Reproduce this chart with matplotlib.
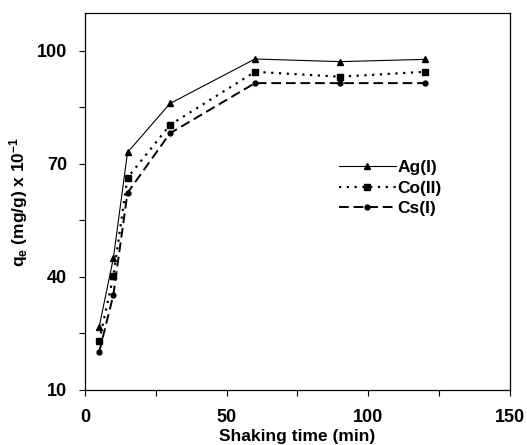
# kinetics plot: uptake vs shaking time

import matplotlib
matplotlib.use("Agg")
import matplotlib.pyplot as plt
from matplotlib.ticker import MultipleLocator

plt.rcParams["font.family"] = "Liberation Sans"
plt.rcParams["font.weight"] = "bold"
plt.rcParams["mathtext.fontset"] = "custom"
plt.rcParams["mathtext.rm"] = "Liberation Sans:bold"
plt.rcParams["mathtext.default"] = "regular"


# Data

time = [5, 10, 15, 30, 60, 90, 120]
ag = [26.8, 44.9, 73.0, 86.0, 97.8, 97.1, 97.7]
co = [23.0, 40.2, 66.3, 80.3, 94.4, 93.1, 94.4]
cs = [20.1, 35.2, 62.3, 78.1, 91.4, 91.4, 91.4]

labels = ["Ag(I)", "Co(II)", "Cs(I)"]


# Plot

fig = plt.figure(figsize=(5.27, 4.45), dpi=100)
ax = fig.add_axes([0.1613, 0.1236, 0.8064, 0.8472])

ax.plot(time, ag, "k-", lw=0.8, marker="^", ms=5, label=labels[0])
ax.plot(time, co, "k", ls=(0, (1, 2.5)), lw=1.6, marker="s", ms=4, label=labels[1])
ax.plot(time, cs, "k", ls=(0, (5, 2.5)), lw=1.4, marker="o", ms=3.5, label=labels[2])

ax.set_xlim(0, 150)
ax.set_ylim(10, 110)
ax.xaxis.set_major_locator(MultipleLocator(50))
ax.xaxis.set_minor_locator(MultipleLocator(25))
ax.set_yticks([10, 40, 70, 100])
ax.set_yticks([25, 55, 85], minor=True)
ax.tick_params(which="both", direction="out", length=4, width=0.8, labelsize=13)
ax.tick_params(axis="x", pad=10)
ax.tick_params(axis="y", pad=9)

for s in ax.spines.values():
    s.set_linewidth(0.9)

ax.set_xlabel("Shaking time (min)", fontsize=12.5, fontweight="bold", labelpad=2)
ax.set_ylabel(r"q$_{e}$ (mg/g) x 10$^{-1}$", fontsize=12.5, fontweight="bold", labelpad=5)

ax.legend(loc="upper left", bbox_to_anchor=(0.568, 0.642), frameon=False,
          handlelength=3.3, handletextpad=0.1, labelspacing=0.3,
          fontsize=12.5, numpoints=1, borderpad=0.2)

plt.savefig("out.png", dpi=100)
